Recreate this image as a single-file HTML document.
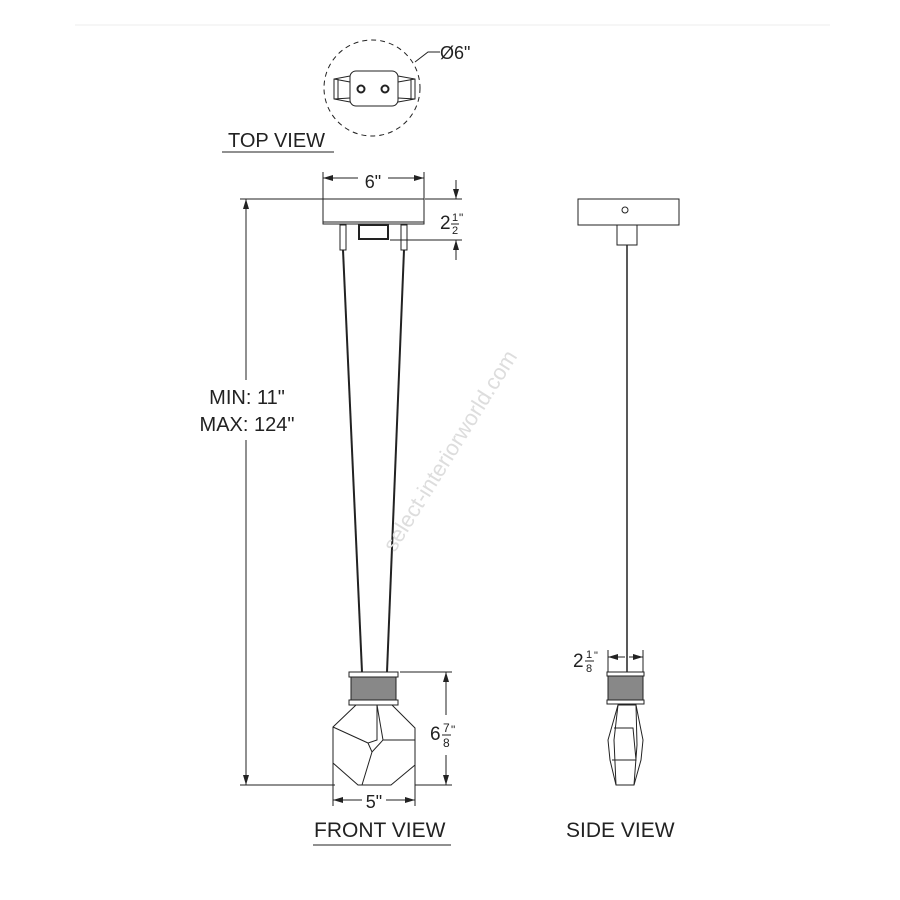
<!DOCTYPE html>
<html><head><style>
html,body{margin:0;padding:0;background:#fff;}
svg{display:block;}
text{font-family:"Liberation Sans",sans-serif;fill:#222;}
</style></head><body>
<svg width="900" height="900" viewBox="0 0 900 900" xmlns="http://www.w3.org/2000/svg">
<defs>
<marker id="a" viewBox="0 0 10 6" refX="10" refY="3" markerWidth="10" markerHeight="6" orient="auto-start-reverse" markerUnits="userSpaceOnUse"><path d="M0,0 L10,3 L0,6 z" fill="#222"/></marker>
</defs>
<line x1="75" y1="25" x2="830" y2="25" stroke="#eee" stroke-width="1"/>
<g stroke="#222" fill="none" stroke-width="1">
<circle cx="372" cy="88" r="48" stroke-dasharray="5,4"/>
<rect x="350" y="71" width="48" height="35" rx="6" fill="#fff"/>
<path d="M350,76 L334,79 L334,99 L350,102 M338,79 L338,99 M334,79 L350,82 M334,99 L350,98"/>
<path d="M398,76 L415,79 L415,99 L398,102 M411,79 L411,99 M415,79 L398,82 M415,99 L398,98"/>
<circle cx="361" cy="89" r="3.5" stroke-width="2"/><circle cx="385" cy="89" r="3.5" stroke-width="2"/>
<path d="M415,62 L428,52 L440,52"/>
<line x1="222" y1="152" x2="334" y2="152"/>
<rect x="323" y="199" width="101" height="25"/>
<line x1="323" y1="222" x2="424" y2="222"/>
<rect x="340" y="225" width="6" height="25"/>
<rect x="401" y="225" width="6" height="25"/>
<rect x="359" y="225" width="29" height="14" stroke-width="2"/>
<line x1="323" y1="172" x2="323" y2="199"/><line x1="424" y1="172" x2="424" y2="199"/>
<line x1="323" y1="178" x2="358" y2="178" marker-start="url(#a)"/>
<line x1="388" y1="178" x2="424" y2="178" marker-end="url(#a)"/>
<line x1="425" y1="199" x2="462" y2="199"/><line x1="390" y1="240" x2="462" y2="240"/>
<line x1="456" y1="180" x2="456" y2="199" marker-end="url(#a)"/>
<line x1="456" y1="260" x2="456" y2="240" marker-end="url(#a)"/>
<line x1="343" y1="250" x2="362" y2="672" stroke-width="2"/>
<line x1="404" y1="250" x2="387" y2="672" stroke-width="2"/>
<rect x="349" y="672" width="49" height="5" fill="#fff"/>
<rect x="351" y="677" width="45" height="23" fill="#888"/>
<rect x="349" y="700" width="49" height="5" fill="#fff"/>
<path d="M356,705 L392,705 L415,728 L415,765 L391,785 L358,785 L333,763 L333,727 Z"/>
<path d="M377,705 L377,740 L368,743 L372,752 L383,740 Z M368,743 L333,727 M383,740 L415,740 M372,752 L362,785"/>
<line x1="240" y1="199" x2="323" y2="199"/><line x1="240" y1="785" x2="335" y2="785"/>
<line x1="246" y1="380" x2="246" y2="199" marker-end="url(#a)"/>
<line x1="246" y1="440" x2="246" y2="785" marker-end="url(#a)"/>
<line x1="400" y1="672" x2="452" y2="672"/><line x1="415" y1="785" x2="452" y2="785"/>
<line x1="446" y1="715" x2="446" y2="672" marker-end="url(#a)"/>
<line x1="446" y1="755" x2="446" y2="785" marker-end="url(#a)"/>
<line x1="333" y1="745" x2="333" y2="806"/><line x1="415" y1="745" x2="415" y2="806"/>
<line x1="333" y1="800" x2="362" y2="800" marker-start="url(#a)"/>
<line x1="386" y1="800" x2="415" y2="800" marker-end="url(#a)"/>
<line x1="313" y1="845" x2="451" y2="845"/>
<rect x="578" y="199" width="101" height="26"/>
<circle cx="625" cy="210" r="3"/>
<rect x="617" y="225" width="20" height="20"/>
<line x1="627" y1="245" x2="627" y2="672" stroke-width="1.5"/>
<line x1="608" y1="650" x2="608" y2="672"/><line x1="643" y1="650" x2="643" y2="672"/>
<line x1="608" y1="657" x2="625" y2="657" marker-start="url(#a)"/>
<line x1="629" y1="657" x2="643" y2="657" marker-end="url(#a)"/>
<rect x="607" y="672" width="37" height="4" fill="#fff"/>
<rect x="608" y="676" width="35" height="24" fill="#888"/>
<rect x="607" y="700" width="37" height="4" fill="#fff"/>
<path d="M618,705 L636,705 L643,740 L641,760 L634,785 L616,785 L610,760 L608,740 Z"/>
<path d="M618,705 L614,740 L616,785 M636,705 L637,745 L634,785 M614,728 L633,728 L636,760 L612,760"/>
</g>
<text x="440" y="59" font-size="18">Ø6"</text>
<text x="228" y="147" font-size="20">TOP VIEW</text>
<text x="373" y="188" font-size="18" text-anchor="middle">6"</text>
<text x="440" y="229" font-size="19">2</text><text x="452" y="221" font-size="11">1</text><text x="452" y="234" font-size="11">2</text><text x="459" y="222" font-size="12">"</text>
<line x1="451" y1="224" x2="459" y2="224" stroke="#222"/>
<text x="247" y="404" font-size="20" text-anchor="middle">MIN: 11"</text>
<text x="247" y="431" font-size="20" text-anchor="middle">MAX: 124"</text>
<text x="430" y="740" font-size="19">6</text><text x="443" y="732" font-size="12">7</text><text x="443" y="747" font-size="12">8</text><text x="451" y="734" font-size="12">"</text>
<line x1="442" y1="735" x2="451" y2="735" stroke="#222"/>
<text x="374" y="808" font-size="18" text-anchor="middle">5"</text>
<text x="314" y="837" font-size="21">FRONT VIEW</text>
<text x="573" y="667" font-size="19">2</text><text x="586" y="658" font-size="11">1</text><text x="586" y="672" font-size="11">8</text><text x="594" y="659" font-size="11">"</text>
<line x1="585" y1="661" x2="594" y2="661" stroke="#222"/>
<text x="566" y="837" font-size="21">SIDE VIEW</text>
<text x="452" y="457" font-size="22" style="fill:#ddd" text-anchor="middle" transform="rotate(-58 452 452)">select-interiorworld.com</text>
</svg>
</body></html>
